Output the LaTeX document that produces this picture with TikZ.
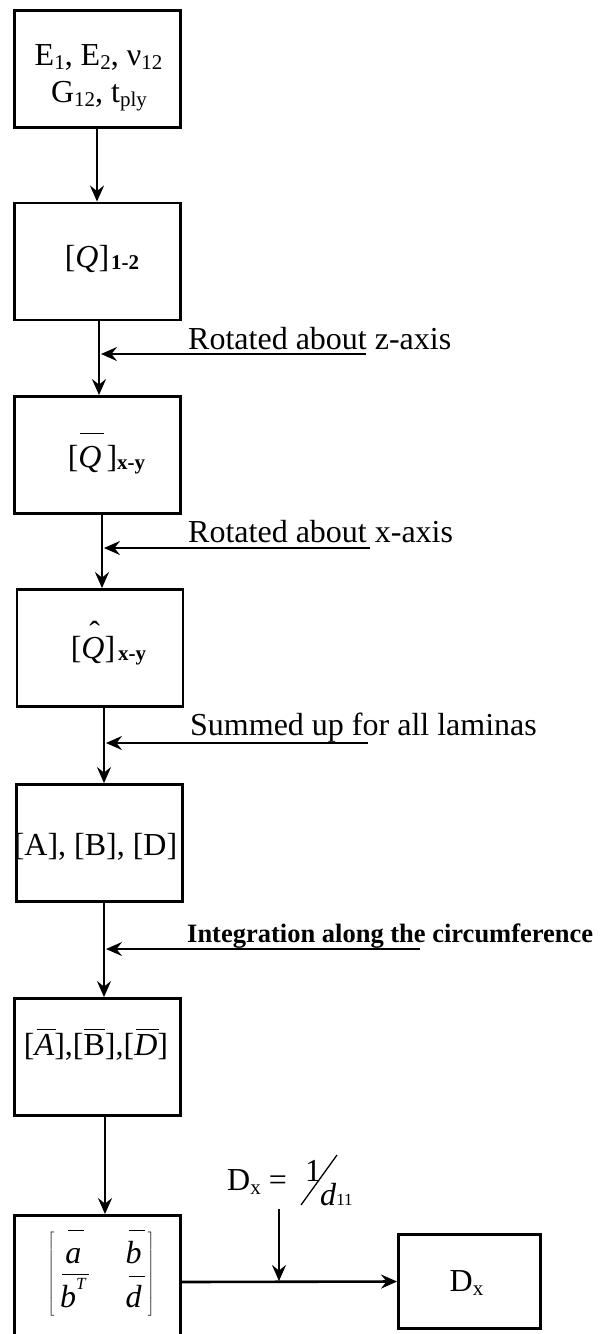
\documentclass[tikz,border=0pt]{standalone}
\usepackage{fontspec}
\setmainfont{Liberation Serif}
\usetikzlibrary{arrows.meta}
\newcommand{\lsub}[1]{\raisebox{-4.5pt}{\fontsize{21}{21}\selectfont #1}}
\newcommand{\bsub}[1]{\raisebox{-2pt}{\fontsize{21}{21}\selectfont\bfseries #1}}
\newcommand{\ovl}[3][0pt]{\leavevmode\setbox0\hbox{#3}\rlap{\kern#1\raisebox{#2}{\rule{\wd0}{1.3pt}}}\box0}
\newcommand{\hatq}{\leavevmode\rlap{\kern8pt\raisebox{15pt}{ˆ}}\textit{Q}}
\begin{document}
\begin{tikzpicture}[x=1pt,y=-1pt,
  box/.style={draw,line width=2.9pt,minimum width=166pt,minimum height=117pt,inner sep=0pt},
  lbl/.style={anchor=base,inner sep=0pt,font=\fontsize{32}{36}\selectfont},
  side/.style={anchor=base west,inner sep=0pt,font=\fontsize{32}{36}\selectfont},
  arr/.style={line width=2.2pt,-{Stealth[length=16pt,width=14pt,inset=5.5pt]}}]
\path[use as bounding box] (0,0) rectangle (600,1334);
\clip (0,0) rectangle (600,1334);

% boxes
\node[box] (b1) at (97.5,69) {};
\node[box] (b2) at (97.5,261.5) {};
\node[box] (b3) at (97.5,455) {};
\node[box] (b4) at (100,648) {};
\node[box] (b5) at (99.5,843) {};
\node[box] (b6) at (97.5,1057) {};
\node[box,minimum height=133pt] (b7) at (97.5,1282) {};
\node[box,minimum width=142pt,minimum height=94pt] (dx) at (469.5,1281.5) {};

% box texts
\node[lbl] (t1a) at (98.5,65) {E\lsub{1}, E\lsub{2}, ν\lsub{12}};
\node[lbl] (t1b) at (99,102) {G\lsub{12}, t\lsub{ply}};
\node[lbl] (t2) at (102,267) {[\textit{Q}]\kern2pt\bsub{1-2}};
\node[lbl] (t3) at (106.5,467) {[\ovl[2pt]{33pt}{\textit{Q}}\kern5pt]\bsub{x-y}};
\node[lbl] (t4) at (108.5,658) {[\hatq]\kern3pt\bsub{x-y}};
\node[lbl] (t5) at (95.5,855) {[A], [B], [D]};
\node[lbl] (t6) at (96,1055) {[\ovl[2pt]{25pt}{\textit{A}}],[\ovl{25pt}{B}],[\ovl[2pt]{25pt}{\textit{D}}]};
\node[lbl,anchor=center] (t7) at (101,1274) {$\renewcommand\arraystretch{1}\setlength\arraycolsep{0pt}\left[\kern6pt\begin{array}{c@{\hspace{39pt}}c}
  \ovl[3pt]{32pt}{\textit{a}} & \ovl[3pt]{32pt}{\textit{b}}\\
  \ovl[2pt]{32pt}{\textit{b}\raisebox{18pt}{\fontsize{17}{17}\selectfont\textit{T}}} & \ovl[3pt]{30pt}{\textit{d}}
  \end{array}\kern6pt\right]$};
\node[lbl] (t8) at (466.5,1291) {D\lsub{x}};

% side labels
\node[side] (lz) at (188,349) {Rotated about z-axis};
\node[side] (lx) at (188,542) {Rotated about x-axis};
\node[side] (ls) at (190,735) {Summed up for all laminas};
\node[side,font=\fontsize{26.5}{30}\selectfont\bfseries] (li) at (187,942) {Integration along the circumference};
\node[side] (ldx) at (227,1190) {D\lsub{x} =};
\node[side] (lone) at (305,1181) {1};
\node[side] (ld) at (320,1205) {\textit{d}{\fontsize{17}{17}\selectfont 11}};
\coordinate (sl1) at (301,1205);
\coordinate (sl2) at (337,1155);
\draw[line width=1.3pt] (sl1) -- (sl2);

% main chain
\draw[arr] ([xshift=-0.5pt]b1.south) -- ([xshift=-0.5pt]b2.north);
\draw[arr] ([xshift=1.5pt]b2.south) -- ([xshift=1.5pt]b3.north);
\draw[arr] ([xshift=4.5pt]b3.south) -- ([xshift=2pt]b4.north);
\draw[arr] ([xshift=4pt]b4.south) -- ([xshift=4.5pt]b5.north);
\draw[arr] ([xshift=4.5pt]b5.south) -- ([xshift=6.5pt]b6.north);
\draw[arr] ([xshift=7.5pt]b6.south) -- ([xshift=7.5pt]b7.north);

% side arrows
\coordinate (zs) at (366,354); \coordinate (zt) at (101,354);
\coordinate (xs) at (370,548); \coordinate (xt) at (104,548);
\coordinate (ss) at (368,743); \coordinate (st) at (106,743);
\coordinate (is) at (420,949); \coordinate (it) at (106,949);
\draw[arr] (zs) -- (zt);
\draw[arr] (xs) -- (xt);
\draw[arr] (ss) -- (st);
\draw[arr] (is) -- (it);

% bottom
\draw[arr,line width=2.6pt] (b7.east) -- (dx.west);
\coordinate (ds) at (279,1209); \coordinate (dt) at (279,1281);
\draw[arr] (ds) -- (dt);
\end{tikzpicture}
\end{document}
